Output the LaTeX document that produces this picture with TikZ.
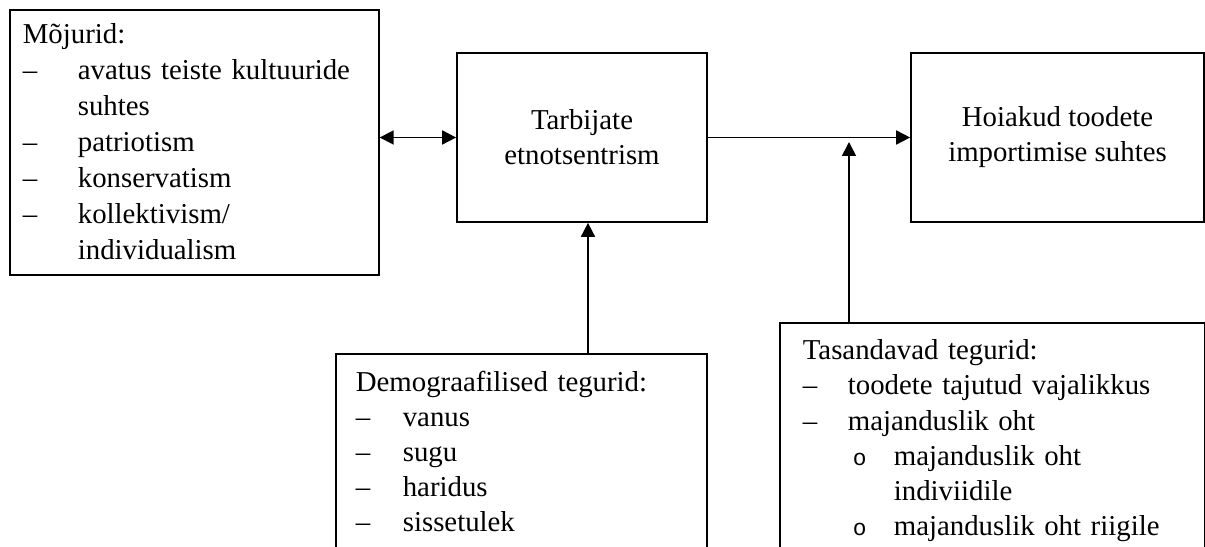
\documentclass[tikz,border=0pt]{standalone}
\usepackage{fontspec}
\setmainfont{Liberation Serif}
\newfontfamily\bulletfont{Liberation Mono}
\usepackage{tikz}
\usetikzlibrary{arrows.meta,positioning,calc}

\newcommand{\dashitem}[2]{\makebox[#1][l]{–}#2}
\newcommand{\subbullet}[1]{\hspace*{1cm}\makebox[0.82cm][l]{\bulletfont\fontsize{13}{20}\selectfont o}#1}

\begin{document}
\begin{tikzpicture}[x=0.02cm, y=-0.02cm,
  every node/.style={font=\fontsize{16.4}{20}\selectfont},
  box/.style={draw, line width=0.035cm, inner xsep=0pt, inner ysep=0pt},
  listbox/.style={box, anchor=north west, align=left},
  arr/.style={-{Triangle[length=0.28cm,width=0.28cm]}, line width=0.035cm},
  darr/.style={{Triangle[length=0.28cm,width=0.28cm]}-{Triangle[length=0.28cm,width=0.28cm]}, line width=0.035cm}]
  % Rahmen
  \useasboundingbox (0,0) rectangle (1205,547);
  \clip (0,0) rectangle (1205,547);

  % Mõjurid
  \node[listbox, font=\fontsize{16.4}{20.5}\selectfont, inner xsep=0.26cm, inner ysep=0.28cm,
        text width=6.86cm, minimum height=5.28cm, text depth=4.34cm] (infl) at (9,9) {Mõjurid:\\
    \dashitem{1.1cm}{avatus teiste kultuuride}\\
    \hspace*{1.1cm}suhtes\\
    \dashitem{1.1cm}{patriotism}\\
    \dashitem{1.1cm}{konservatism}\\
    \dashitem{1.1cm}{kollektivism/}\\
    \hspace*{1.1cm}individualism};

  % Kesk- ja tulemusplokk
  \node[box, minimum width=5cm, minimum height=3.38cm, align=center] (ethno) at (582,137.5) {Tarbijate\\etnotsentrism};
  \node[box, minimum width=5.86cm, minimum height=3.38cm, align=center] (attit) at (1057.5,137.5) {Hoiakud toodete\\importimise suhtes};

  % Demograafilised tegurid
  \node[listbox, inner xsep=0.4cm, inner ysep=0.34cm, text width=6.62cm, text depth=6cm] (demo) at (335,353) {Demograafilised tegurid:\\
    \dashitem{0.94cm}{vanus}\\
    \dashitem{0.94cm}{sugu}\\
    \dashitem{0.94cm}{haridus}\\
    \dashitem{0.94cm}{sissetulek}};

  % Tasandavad tegurid
  \node[listbox, inner xsep=0.46cm, inner ysep=0.34cm, text width=7.58cm, text depth=6cm] (moder) at (779,322) {Tasandavad tegurid:\\
    \dashitem{0.9cm}{toodete tajutud vajalikkus}\\
    \dashitem{0.9cm}{majanduslik oht}\\
    \subbullet{majanduslik oht}\\
    \hspace*{1.82cm}indiviidile\\
    \subbullet{majanduslik oht riigile}};

  % Seosed
  \coordinate (dm) at ([xshift=0.12cm]ethno.south);
  \coordinate (mod) at (849,142);
  \draw[darr] (infl.east |- ethno.west) -- (ethno.west);
  \draw[arr] (ethno) -- (attit);
  \draw[arr] (dm |- demo.north) -- (dm);
  \draw[arr] (mod |- moder.north) -- (mod);
\end{tikzpicture}
\end{document}
